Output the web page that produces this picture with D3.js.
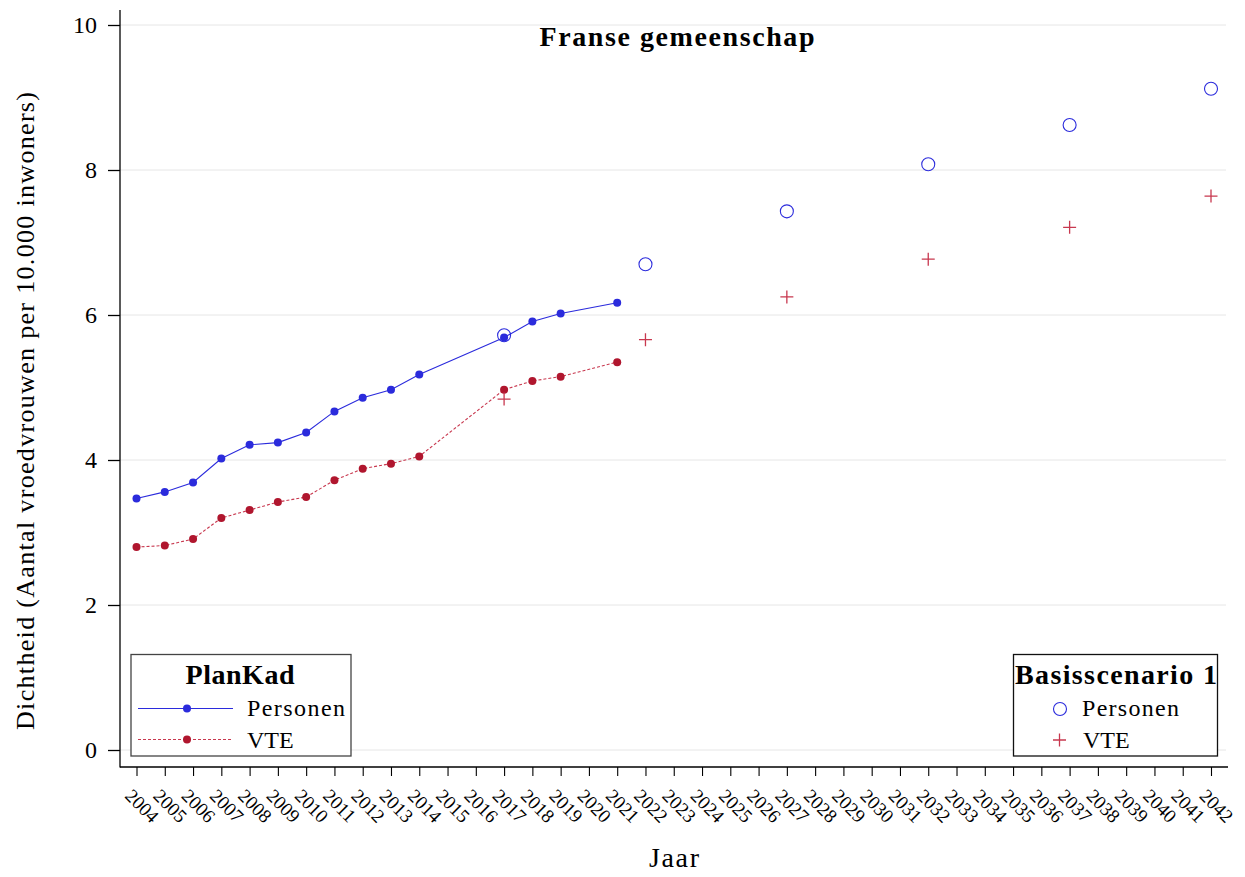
<!DOCTYPE html>
<html><head><meta charset="utf-8">
<script src="https://cdn.jsdelivr.net/npm/d3@7"></script>
<style>html,body{margin:0;padding:0;background:#fff}svg{display:block}svg text{font-family:"Liberation Serif","Times New Roman",Times,"Nimbus Roman","Nimbus Roman No9 L",FreeSerif,serif !important}</style>
</head><body><svg id="c" width="1245" height="877"></svg>
<script>
const tickYears = d3.range(2004, 2043);
const yTicks = [0, 2, 4, 6, 8, 10];
const years = [2004,2005,2006,2007,2008,2009,2010,2011,2012,2013,2014,2017,2018,2019,2021];
const personen = [3.47,3.56,3.69,4.02,4.21,4.24,4.38,4.67,4.86,4.97,5.18,5.69,5.91,6.02,6.17];
const vte = [2.80,2.82,2.91,3.20,3.31,3.42,3.49,3.72,3.88,3.95,4.05,4.97,5.09,5.15,5.35];
const projYears = [2017,2022,2027,2032,2037,2042];
const projPersonen = [5.72,6.70,7.43,8.08,8.62,9.12];
const projVTE = [4.84,5.66,6.25,6.77,7.21,7.64];

const BLUE = "#2b2bdc", RED = "#b0162e", RED_L = "#c8384f";
const svg = d3.select("#c");
const x = d3.scaleLinear().domain([2004, 2042]).range([136.5, 1211]);
const y = d3.scaleLinear().domain([0, 10]).range([750, 25]);
const axisX = 120, axisY = 767;

// gridlines
svg.append("g").selectAll("line").data(yTicks).join("line")
  .attr("x1", axisX).attr("x2", 1226).attr("y1", d => y(d)).attr("y2", d => y(d))
  .attr("stroke", "#e6e6e6").attr("stroke-width", 1);

// y axis
const yAx = svg.append("g").attr("transform", `translate(${axisX},0)`)
  .call(d3.axisLeft(y).tickValues(yTicks).tickSize(12).tickPadding(11).tickFormat(d3.format("d")));
yAx.select(".domain").remove();
yAx.selectAll(".tick line").attr("stroke", "#000").attr("stroke-width", 1.3);
yAx.selectAll("text").attr("font-size", 24).attr("fill", "#000");
svg.append("line").attr("x1", axisX).attr("x2", axisX).attr("y1", 10).attr("y2", axisY + 0.5)
  .attr("stroke", "#000").attr("stroke-width", 1.3);

// x axis
const xAx = svg.append("g").attr("transform", `translate(0,${axisY})`)
  .call(d3.axisBottom(x).tickValues(tickYears).tickSize(9).tickFormat(d3.format("d")));
xAx.select(".domain").remove();
xAx.selectAll(".tick line").attr("stroke", "#000").attr("stroke-width", 1.1);
xAx.selectAll(".tick text")
  .attr("font-size", 19).attr("fill", "#000")
  .attr("text-anchor", "start").attr("dy", null).attr("y", null)
  .attr("transform", "translate(-13,30) rotate(45)");
svg.append("line").attr("x1", axisX).attr("x2", 1228).attr("y1", axisY).attr("y2", axisY)
  .attr("stroke", "#000").attr("stroke-width", 1.3);

// lines
const pData = years.map((yr, i) => ({yr, v: personen[i]}));
const vData = years.map((yr, i) => ({yr, v: vte[i]}));
const line = d3.line().x(d => x(d.yr)).y(d => y(d.v));
svg.append("path").datum(pData).attr("d", line).attr("fill", "none").attr("stroke", BLUE).attr("stroke-width", 1.1);
svg.append("path").datum(vData).attr("d", line).attr("fill", "none").attr("stroke", RED_L).attr("stroke-width", 1.1).attr("stroke-dasharray", "3,2");
svg.append("g").selectAll("circle").data(pData).join("circle")
  .attr("cx", d => x(d.yr)).attr("cy", d => y(d.v)).attr("r", 4).attr("fill", BLUE);
svg.append("g").selectAll("circle").data(vData).join("circle")
  .attr("cx", d => x(d.yr)).attr("cy", d => y(d.v)).attr("r", 4).attr("fill", RED);

// projections
svg.append("g").selectAll("circle").data(projYears.map((yr, i) => ({yr, v: projPersonen[i]}))).join("circle")
  .attr("cx", d => x(d.yr)).attr("cy", d => y(d.v)).attr("r", 6.5).attr("fill", "none").attr("stroke", BLUE).attr("stroke-width", 1.1);
svg.append("g").selectAll("path").data(projYears.map((yr, i) => ({yr, v: projVTE[i]}))).join("path")
  .attr("d", d => `M${x(d.yr)-6.5},${y(d.v)}H${x(d.yr)+6.5}M${x(d.yr)},${y(d.v)-6.5}V${y(d.v)+6.5}`)
  .attr("stroke", RED_L).attr("stroke-width", 1.3).attr("fill", "none");

// title
svg.append("text").attr("x", 677).attr("y", 46).attr("text-anchor", "middle")
  .attr("font-size", 28).attr("font-weight", "bold").attr("textLength", 275).attr("lengthAdjust", "spacing")
  .text("Franse gemeenschap");

// axis titles
svg.append("text").attr("transform", "translate(34,411) rotate(-90)").attr("text-anchor", "middle")
  .attr("font-size", 26).attr("textLength", 638).attr("lengthAdjust", "spacing")
  .text("Dichtheid (Aantal vroedvrouwen per 10.000 inwoners)");
svg.append("text").attr("x", 674).attr("y", 867).attr("text-anchor", "middle")
  .attr("font-size", 28).attr("textLength", 50).attr("lengthAdjust", "spacing").text("Jaar");

// left legend
const L = svg.append("g");
L.append("rect").attr("x", 131).attr("y", 654.5).attr("width", 220).attr("height", 101.5)
  .attr("fill", "#fff").attr("stroke", "#444").attr("stroke-width", 1.3);
L.append("text").attr("x", 240).attr("y", 684).attr("text-anchor", "middle").attr("font-size", 28)
  .attr("font-weight", "bold").attr("textLength", 109).attr("lengthAdjust", "spacing").text("PlanKad");
L.append("line").attr("x1", 138).attr("x2", 233).attr("y1", 708.5).attr("y2", 708.5).attr("stroke", BLUE).attr("stroke-width", 1.1);
L.append("circle").attr("cx", 187).attr("cy", 708.5).attr("r", 4).attr("fill", BLUE);
L.append("line").attr("x1", 138).attr("x2", 233).attr("y1", 739.5).attr("y2", 739.5).attr("stroke", RED_L).attr("stroke-width", 1.1).attr("stroke-dasharray", "3,2");
L.append("circle").attr("cx", 187).attr("cy", 739.5).attr("r", 4).attr("fill", RED);
L.append("text").attr("x", 247).attr("y", 716).attr("font-size", 24).attr("textLength", 98).attr("lengthAdjust", "spacing").text("Personen");
L.append("text").attr("x", 247).attr("y", 748).attr("font-size", 24).text("VTE");

// right legend
const R = svg.append("g");
R.append("rect").attr("x", 1013.5).attr("y", 654.5).attr("width", 204).attr("height", 101.5)
  .attr("fill", "#fff").attr("stroke", "#111").attr("stroke-width", 1.3);
R.append("text").attr("x", 1116).attr("y", 684).attr("text-anchor", "middle").attr("font-size", 28)
  .attr("font-weight", "bold").attr("textLength", 202).attr("lengthAdjust", "spacing").text("Basisscenario 1");
R.append("circle").attr("cx", 1060).attr("cy", 709).attr("r", 6.5).attr("fill", "none").attr("stroke", BLUE).attr("stroke-width", 1.1);
R.append("path").attr("d", "M1053,740H1066M1059.5,733.5V746.5").attr("stroke", RED_L).attr("stroke-width", 1.3);
R.append("text").attr("x", 1082).attr("y", 716).attr("font-size", 24).attr("textLength", 97).attr("lengthAdjust", "spacing").text("Personen");
R.append("text").attr("x", 1083).attr("y", 748).attr("font-size", 24).text("VTE");
</script></body></html>
